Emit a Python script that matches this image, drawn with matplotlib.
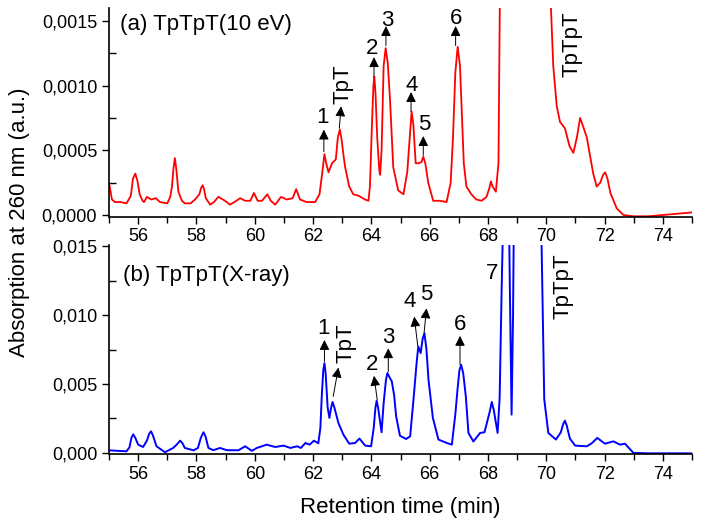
import numpy as np
import matplotlib
matplotlib.use("Agg")
import matplotlib.pyplot as plt
from matplotlib.ticker import MultipleLocator, FuncFormatter

plt.rcParams['font.family'] = ['Liberation Sans', 'DejaVu Sans']

# (a) TpTpT (10 eV) trace, retention time (min) / absorption
t_a = [55.0, 55.1, 55.2, 55.4, 55.6, 55.75, 55.82, 55.9, 55.97, 56.05, 56.15, 56.2, 56.3, 56.45,
       56.6, 56.75, 57.0, 57.1, 57.16, 57.21, 57.26, 57.31, 57.38, 57.5, 57.6, 57.8, 57.95, 58.1,
       58.16, 58.21, 58.26, 58.32, 58.47, 58.6, 58.75, 58.98, 59.15, 59.3, 59.5, 59.67, 59.85,
       59.97, 60.1, 60.25, 60.43, 60.55, 60.7, 60.9, 61.1, 61.3, 61.42, 61.55, 61.78, 62.07,
       62.22, 62.3, 62.39, 62.45, 62.53, 62.65, 62.78, 62.85, 62.92, 62.98, 63.05, 63.1, 63.24,
       63.38, 63.55, 63.78, 63.9, 63.95, 64.02, 64.07, 64.1, 64.14, 64.2, 64.27, 64.3, 64.35,
       64.42, 64.49, 64.56, 64.64, 64.75, 64.92, 65.1, 65.23, 65.3, 65.38, 65.44, 65.52, 65.63,
       65.72, 65.78, 65.85, 65.95, 66.12, 66.35, 66.58, 66.72, 66.8, 66.88, 66.96, 67.04, 67.1,
       67.17, 67.26, 67.43, 67.6, 67.78, 67.95, 68.05, 68.1, 68.16, 68.27, 68.36, 68.42, 68.6,
       69.3, 70.0, 70.16, 70.24, 70.36, 70.47, 70.64, 70.8, 70.93, 71.05, 71.16, 71.27, 71.39,
       71.61, 71.73, 71.85, 71.95, 72.02, 72.1, 72.2, 72.42, 72.65, 73.0, 73.5, 74.0, 74.5,
       75.0]
v_a = [0.00025, 0.00012, 0.0001, 0.0001, 0.00009, 0.00015, 0.00028, 0.00032, 0.00027, 0.00016,
       0.00011, 0.0001, 0.00014, 0.00012, 0.00013, 0.0001, 0.00009, 0.00014, 0.00022, 0.00036,
       0.00044, 0.00035, 0.00018, 0.00011, 0.00009, 0.00009, 0.00012, 0.00016, 0.00021, 0.00023,
       0.0002, 0.00013, 0.00008, 0.0001, 0.00014, 0.00011, 0.00008, 0.0001, 0.00013, 0.00011,
       0.00011, 0.00017, 0.00011, 0.00011, 0.00016, 0.00011, 0.00008, 0.00014, 0.00012,
       0.00013, 0.0002, 0.00012, 0.0001, 0.0001, 0.00016, 0.0003, 0.00047, 0.0004, 0.00033,
       0.0004, 0.00043, 0.0006, 0.00066, 0.00058, 0.00045, 0.00037, 0.00022, 0.00016, 0.00015,
       0.00012, 0.00011, 0.00022, 0.0007, 0.001, 0.00107, 0.00095, 0.0006, 0.00035, 0.00031,
       0.0005, 0.00115, 0.00129, 0.00118, 0.00089, 0.00037, 0.00019, 0.00016, 0.00033, 0.00055,
       0.0008, 0.0007, 0.0004, 0.0004, 0.00041, 0.00045, 0.0004, 0.00025, 0.00011, 0.00011,
       0.0001, 0.00025, 0.0006, 0.0011, 0.0013, 0.00115, 0.0008, 0.0004, 0.00022, 0.00016,
       0.00012, 0.00011, 0.00014, 0.00021, 0.00026, 0.00022, 0.00018, 0.0004, 0.002, 0.006,
       0.008, 0.0025, 0.0016, 0.00115, 0.00084, 0.00072, 0.00067, 0.00053, 0.00048, 0.0006,
       0.00075, 0.00068, 0.0006, 0.00032, 0.00022, 0.00025, 0.00031, 0.00033, 0.00028, 0.00017,
       0.00005, 0.0, -0.00001, -0.00001, 0.0, 0.00001, 0.00002]

# (b) TpTpT (X-ray) trace
t_b = [55.0, 55.3, 55.6, 55.7, 55.77, 55.83, 55.9, 56.0, 56.17, 56.3, 56.38, 56.44, 56.5,
       56.63, 56.92, 57.2, 57.32, 57.44, 57.52, 57.6, 57.9, 58.05, 58.15, 58.24, 58.31, 58.41,
       58.58, 58.81, 59.04, 59.44, 59.67, 59.9, 60.07, 60.41, 60.7, 60.99, 61.22, 61.45, 61.58,
       61.74, 61.88, 62.03, 62.18, 62.25, 62.3, 62.35, 62.39, 62.43, 62.5, 62.56, 62.62, 62.67,
       62.73, 62.87, 63.04, 63.24, 63.44, 63.59, 63.79, 63.99, 64.08, 64.14, 64.18, 64.23,
       64.35, 64.42, 64.5, 64.55, 64.62, 64.7, 64.78, 64.85, 64.98, 65.19, 65.33, 65.45, 65.55,
       65.61, 65.69, 65.76, 65.82, 65.89, 65.96, 66.11, 66.3, 66.59, 66.76, 66.88, 66.95, 67.02,
       67.08, 67.15, 67.24, 67.33, 67.5, 67.73, 67.88, 68.05, 68.13, 68.2, 68.33, 68.4, 68.47,
       68.55, 68.65, 68.75, 68.81, 68.86, 68.92, 69.4, 69.84, 69.93, 70.07, 70.33, 70.5, 70.58,
       70.64, 70.7, 70.81, 70.99, 71.39, 71.56, 71.75, 72.01, 72.3, 72.53, 72.7, 72.99, 73.5,
       75.0]
v_b = [0.00019, 0.00015, 0.00012, 0.0004, 0.0011, 0.00135, 0.0011, 0.0006, 0.00043, 0.0009,
       0.0014, 0.00157, 0.0013, 0.00048, 0.00005, 0.00036, 0.0006, 0.00089, 0.0007, 0.00036,
       0.00019, 0.00036, 0.0011, 0.0015, 0.0012, 0.00036, 0.0002, 0.00036, 0.0002, 0.00019,
       0.00048, 0.00015, 0.00036, 0.0006, 0.00043, 0.00053, 0.00036, 0.00048, 0.00036, 0.00072,
       0.0006, 0.00089, 0.0007, 0.0018, 0.0042, 0.006, 0.00652, 0.0058, 0.0033, 0.00254, 0.0033,
       0.0037, 0.0033, 0.00217, 0.00133, 0.00067, 0.00072, 0.00104, 0.00053, 0.00048, 0.0018,
       0.0033, 0.00379, 0.0033, 0.0015, 0.0036, 0.0053, 0.0058, 0.0055, 0.0052, 0.0042, 0.00265,
       0.00125, 0.00101, 0.0012, 0.004, 0.0065, 0.00773, 0.00725, 0.0083, 0.0087, 0.0075, 0.0053,
       0.00254, 0.00097, 0.00072, 0.0006, 0.0028, 0.0045, 0.006, 0.0064, 0.0058, 0.0041, 0.00145,
       0.00083, 0.00145, 0.0015, 0.0029, 0.0037, 0.0031, 0.00145, 0.004, 0.012, 0.02, 0.03,
       0.012, 0.00278, 0.01, 0.025, 0.05, 0.015, 0.0039, 0.00145, 0.00097, 0.0015, 0.0021,
       0.00234, 0.002, 0.00104, 0.00053, 0.00048, 0.0007, 0.00109, 0.00067, 0.00084, 0.0006,
       0.00067, 0.0, -0.00003, -0.00003]

# peak labels: (text, text x, text y, arrow tail x, tail y, head x, head y)
labels_a = [("1", 62.33, 0.00075, 62.37, 0.00049, 62.37, 0.00066),
            ("2", 64.01, 0.00129, 64.09, 0.00107, 64.09, 0.00122),
            ("3", 64.55, 0.0015, 64.5, 0.00131, 64.5, 0.00146),
            ("4", 65.4, 0.001, 65.36, 0.0008, 65.36, 0.00095),
            ("5", 65.8, 0.0007, 65.78, 0.00046, 65.78, 0.00061),
            ("6", 66.89, 0.00152, 66.89, 0.00131, 66.89, 0.00146),
            ("TpT", 63.04, 0.00101, 62.9, 0.00067, 62.96, 0.00084)]
labels_b = [("1", 62.35, 0.00906, 62.39, 0.00664, 62.39, 0.0082),
            ("2", 64.04, 0.0064, 64.2, 0.00386, 64.09, 0.0056),
            ("3", 64.58, 0.0084, 64.58, 0.0059, 64.58, 0.0076),
            ("4", 65.3, 0.011, 65.59, 0.00778, 65.47, 0.0099),
            ("5", 65.89, 0.0115, 65.81, 0.00875, 65.89, 0.0105),
            ("6", 67.04, 0.0093, 67.04, 0.0064, 67.04, 0.0085),
            ("TpT", 63.13, 0.008, 62.69, 0.0041, 62.87, 0.0062)]

fig = plt.figure(figsize=(7.02, 5.28), dpi=100)
ax1 = fig.add_axes([0.1553, 0.5896, 0.8305, 0.3953])
ax2 = fig.add_axes([0.1553, 0.1396, 0.8305, 0.3964])

ax1.plot(t_a, v_a, color='#ff0000', lw=1.3)
ax2.plot(t_b, v_b, color='#0000ff', lw=1.4)

ax1.set_ylim(-0.000013, 0.0016)
ax2.set_ylim(-0.0001, 0.0151)

def comma4(x, pos):
    return ("%.4f" % x).replace(".", ",")

def comma3(x, pos):
    return ("%.3f" % x).replace(".", ",")

for ax in (ax1, ax2):
    ax.set_xlim(55, 75)
    ax.spines['top'].set_visible(False)
    ax.spines['right'].set_visible(False)
    ax.xaxis.set_major_locator(MultipleLocator(2))
    ax.xaxis.set_minor_locator(MultipleLocator(1))
    ax.tick_params(axis='x', which='major', direction='out', length=5, width=1, labelsize=13)
    ax.tick_params(axis='x', which='minor', direction='out', length=4, width=1)
    ax.tick_params(axis='y', which='major', direction='out', length=5, width=1, labelsize=13)
    ax.tick_params(axis='y', which='minor', direction='in', length=5, width=1)
    for s in ax.spines.values():
        s.set_linewidth(1.2)

ax1.yaxis.set_major_locator(MultipleLocator(0.0005))
ax1.yaxis.set_minor_locator(MultipleLocator(0.00025))
ax1.yaxis.set_major_formatter(FuncFormatter(comma4))
ax2.yaxis.set_major_locator(MultipleLocator(0.005))
ax2.yaxis.set_minor_locator(MultipleLocator(0.0025))
ax2.yaxis.set_major_formatter(FuncFormatter(comma3))

arrow = dict(arrowstyle='-|>', color='black', lw=0.7, mutation_scale=15, shrinkA=0, shrinkB=0)
for ax, labels in ((ax1, labels_a), (ax2, labels_b)):
    for txt, tx, ty, x0, y0, x1, y1 in labels:
        rot = 90 if txt == "TpT" else 0
        ax.text(tx, ty, txt, fontsize=16, ha='center', va='center', rotation=rot)
        ax.annotate('', xy=(x1, y1), xytext=(x0, y0), arrowprops=arrow)

ax1.text(70.87, 0.00132, "TpTpT", fontsize=16, ha='center', va='center', rotation=90)
ax2.text(70.58, 0.0121, "TpTpT", fontsize=16, ha='center', va='center', rotation=90)
ax2.text(68.13, 0.013, "7", fontsize=16, ha='center', va='center')

ax1.text(55.38, 0.00147, "(a) TpTpT(10 eV)", fontsize=16, ha='left', va='center')
ax2.text(55.48, 0.0129, "(b) TpTpT(X-ray)", fontsize=16, ha='left', va='center')

fig.text(0.028, 0.579, "Absorption at 260 nm (a.u.)", fontsize=16, rotation=90, ha='center', va='center')
fig.text(0.57, 0.038, "Retention time (min)", fontsize=16, ha='center', va='center')

fig.savefig("out.png", dpi=100)
